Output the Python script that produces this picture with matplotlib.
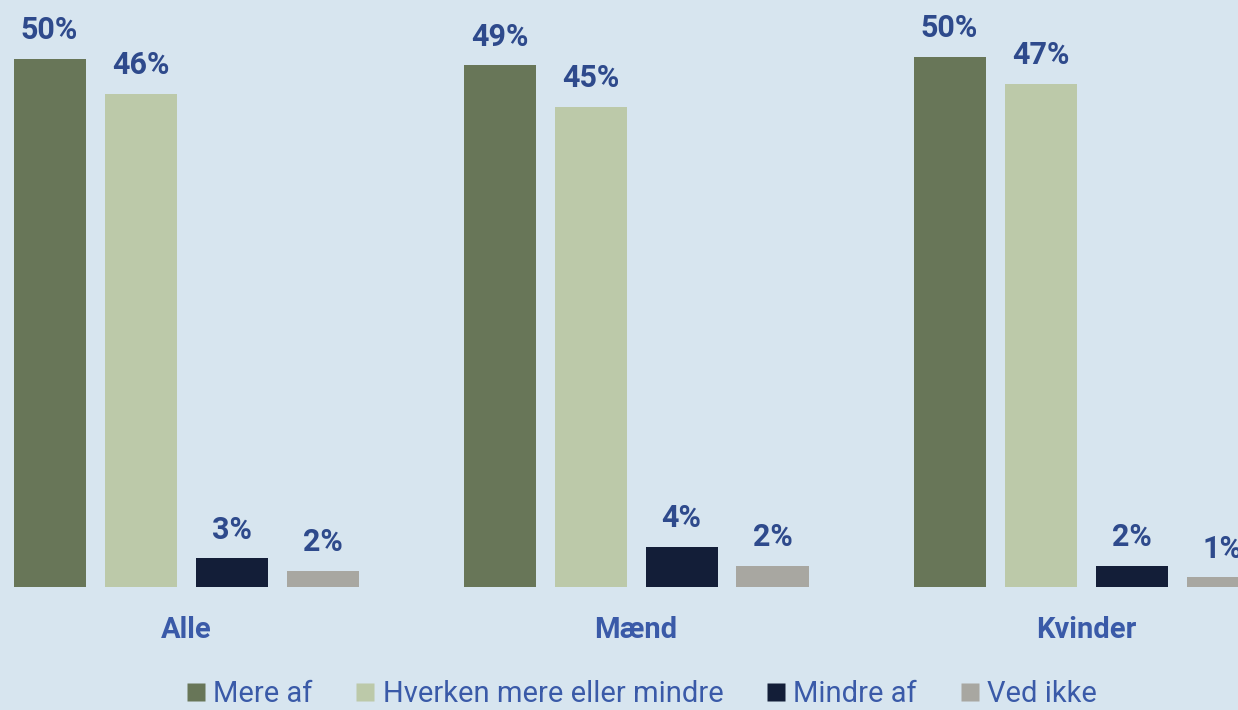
import numpy as np
import matplotlib.pyplot as plt
from matplotlib.lines import Line2D

# data
groups = ["Alle", "Mænd", "Kvinder"]
series = ["Mere af", "Hverken mere eller mindre", "Mindre af", "Ved ikke"]
mere_af = [49.8, 49.2, 50.0]
hverken = [46.5, 45.3, 47.5]
mindre_af = [2.7, 3.8, 2.0]
ved_ikke = [1.5, 2.0, 0.9]
labels = [["50%", "49%", "50%"], ["46%", "45%", "47%"],
          ["3%", "4%", "2%"], ["2%", "2%", "1%"]]

colors = ["#687658", "#bcc9a9", "#131e38", "#a8a7a1"]
bg = "#d7e5ef"
val_col = "#2e4a8c"
txt_col = "#3a5aa8"

plt.rcParams['font.family'] = ['Roboto', 'DejaVu Sans']

fig = plt.figure(figsize=(12.38, 7.10), dpi=100, facecolor=bg)
ax = fig.add_axes([0, (710 - 587) / 710, 1, 587 / 710])
ax.set_facecolor(bg)

x = np.arange(len(groups))
step = 91 / 450
width = 72 / 450
all_vals = [mere_af, hverken, mindre_af, ved_ikke]
for i, vals in enumerate(all_vals):
    xs = x + (i - 1.5) * step
    ax.bar(xs, vals, width=width, color=colors[i])
    for xx, v, lab in zip(xs, vals, labels[i]):
        ax.text(xx, v + 1.3, lab, ha='center', va='bottom', fontsize=22,
                fontweight='bold', color=val_col)

ax.set_xlim(-186 / 450, (1238 - 186) / 450)
ax.set_ylim(0, 587 / 10.6)
ax.axis('off')

# category labels under the groups
for xx, g in zip(x, groups):
    ax.text(xx, -4.1, g, ha='center', va='center', fontsize=21,
            fontweight='bold', color=txt_col)

handles = [Line2D([], [], marker='s', linestyle='none', markersize=13.5,
                  markerfacecolor=c, markeredgecolor='none') for c in colors]
leg = fig.legend(handles, series, loc='center', bbox_to_anchor=(642 / 1238, 1 - 694 / 710),
                 ncol=4, frameon=False, fontsize=21, handlelength=0.6,
                 handletextpad=0.3, columnspacing=1.5, borderpad=0)
for t in leg.get_texts():
    t.set_color(txt_col)
    t.set_fontweight('normal')

fig.savefig("out.png", dpi=100, facecolor=bg)
